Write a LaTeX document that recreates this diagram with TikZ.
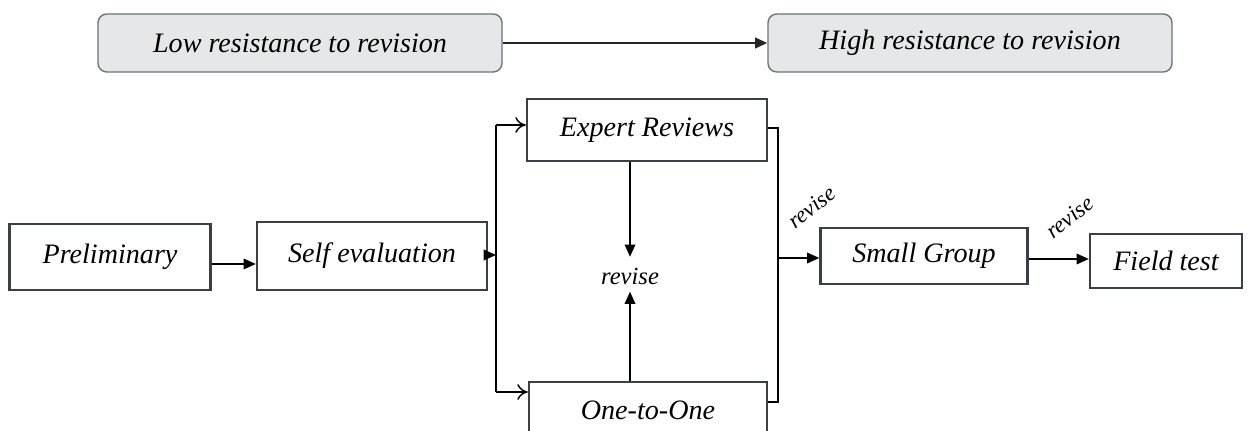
\documentclass[tikz,border=0pt]{standalone}
\usepackage{fontspec}
\setmainfont{Liberation Serif}
\usetikzlibrary{arrows.meta}
\definecolor{boxline}{HTML}{3A3F45}
\definecolor{topline}{HTML}{6A747C}
\definecolor{topfill}{HTML}{E6E7E8}
\begin{document}
\begin{tikzpicture}[x=0.02cm,y=-0.02cm]
    \tikzstyle{stage}=[draw=boxline, line width=1.3pt, fill=white, inner sep=0pt, font=\fontsize{16}{19}\selectfont\itshape]
    \tikzstyle{level}=[draw=topline, line width=0.8pt, fill=topfill, rounded corners=5pt, inner sep=0pt, minimum width=404*0.02cm, minimum height=58*0.02cm, font=\fontsize{16}{19}\selectfont\itshape]
    \tikzstyle{flow}=[line width=1pt, draw=black, -{Triangle[length=7pt,width=6pt]}]
    \tikzstyle{open}=[line width=0.8pt, -{To[length=6pt,width=9pt]}]
    \tikzstyle{lbl}=[font=\fontsize{13}{16}\selectfont\itshape, inner sep=1pt]
    \useasboundingbox (0,0) rectangle (1252,431);
    \begin{scope}
    \clip (0,0) rectangle (1252,431);
    % resistance scale
    \node[level] (low) at (300,43) {Low resistance to revision};
    \node[level] (high) at (970,43) {High resistance to revision};
    \draw[flow, line width=1.5pt, draw=black!85] (low) -- (high);
    % stages
    \node[stage, minimum width=201*0.02cm, minimum height=66*0.02cm] (prelim) at (110,257) {Preliminary};
    \node[stage, minimum width=230*0.02cm, minimum height=68*0.02cm] (self) at (372,256) {Self evaluation};
    \node[stage, minimum width=240*0.02cm, minimum height=62*0.02cm] (expert) at (647,130) {Expert Reviews};
    \node[stage, minimum width=238*0.02cm, minimum height=76*0.02cm] (one) at (648,420) {};
    \node[lbl, font=\fontsize{16}{19}\selectfont\itshape] (onetxt) at (648,410) {One-to-One};
    \node[stage, minimum width=207*0.02cm, minimum height=56*0.02cm] (small) at (924,256) {Small Group};
    \node[stage, minimum width=152*0.02cm, minimum height=54*0.02cm] (field) at (1166,261) {Field test};
    \node[lbl, font=\fontsize{14}{17}\selectfont\itshape] (rev) at (630,276) {revise};
    \node[lbl, rotate=38] (rev1) at (812,207) {revise};
    \node[lbl, rotate=38] (rev2) at (1070,217) {revise};
    % split and join
    \coordinate (lt) at (496,125);
    \coordinate (lb) at (496,392);
    \coordinate (rt) at (778,128);
    \coordinate (rb) at (778,402);
    \draw[flow] (prelim.east |- 0,264) -- (self.west |- 0,264);
    \draw[flow] (self.east |- 0,255) -- (lt |- 0,255);
    \draw[line width=0.8pt] (lt) -- (lb);
    \draw[open] (lt) -- (lt -| expert.west);
    \draw[open] (lb) -- (lb -| one.west);
    \draw[flow, shorten >=5pt] (expert.south -| rev) -- (rev.north);
    \draw[flow, shorten >=3pt] (one.north -| rev) -- (rev.south);
    \draw[line width=0.8pt] (rt -| expert.east) -- (rt) -- (rb) -- (rb -| one.east);
    \draw[flow] (rt |- 0,258) -- (small.west |- 0,258);
    \draw[flow] (small.east |- 0,259) -- (field.west |- 0,259);
    \end{scope}
\end{tikzpicture}
\end{document}
